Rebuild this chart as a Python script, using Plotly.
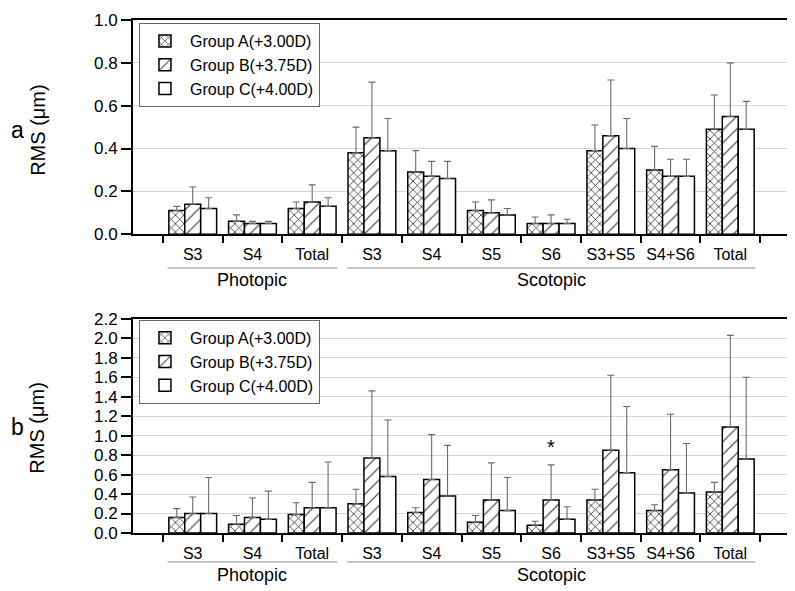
import plotly.graph_objects as go

# ---------------- data ----------------
categories = ["S3", "S4", "Total", "S3", "S4", "S5", "S6", "S3+S5", "S4+S6", "Total"]
group_labels = ["Photopic", "Scotopic"]
group_first = [1, 4]
group_last = [3, 10]
series_names = ["Group A(+3.00D)", "Group B(+3.75D)", "Group C(+4.00D)"]

# panel a (mean, SD)
a_mean_A = [0.11, 0.06, 0.12, 0.38, 0.29, 0.11, 0.05, 0.39, 0.30, 0.49]
a_sd_A = [0.02, 0.03, 0.03, 0.12, 0.10, 0.04, 0.03, 0.12, 0.11, 0.16]
a_mean_B = [0.14, 0.05, 0.15, 0.45, 0.27, 0.10, 0.05, 0.46, 0.27, 0.55]
a_sd_B = [0.08, 0.01, 0.08, 0.26, 0.07, 0.06, 0.04, 0.26, 0.08, 0.25]
a_mean_C = [0.12, 0.05, 0.13, 0.39, 0.26, 0.09, 0.05, 0.40, 0.27, 0.49]
a_sd_C = [0.05, 0.01, 0.04, 0.15, 0.08, 0.03, 0.02, 0.14, 0.08, 0.13]

# panel b (mean, SD)
b_mean_A = [0.16, 0.09, 0.19, 0.30, 0.21, 0.11, 0.08, 0.34, 0.23, 0.42]
b_sd_A = [0.09, 0.09, 0.12, 0.15, 0.05, 0.07, 0.04, 0.11, 0.06, 0.10]
b_mean_B = [0.20, 0.16, 0.26, 0.77, 0.55, 0.34, 0.34, 0.85, 0.65, 1.09]
b_sd_B = [0.17, 0.20, 0.26, 0.69, 0.46, 0.38, 0.36, 0.77, 0.57, 0.94]
b_mean_C = [0.20, 0.14, 0.26, 0.58, 0.38, 0.23, 0.14, 0.62, 0.41, 0.76]
b_sd_C = [0.37, 0.29, 0.47, 0.58, 0.52, 0.34, 0.13, 0.68, 0.51, 0.84]

a_yticks = [0.0, 0.2, 0.4, 0.6, 0.8, 1.0]
b_yticks = [0.0, 0.2, 0.4, 0.6, 0.8, 1.0, 1.2, 1.4, 1.6, 1.8, 2.0, 2.2]
star_category = 7
star_value = 0.88

x_pos = list(range(1, len(categories) + 1))

FONT = "Arial, Liberation Sans, sans-serif"
patterns = [
    dict(shape="x", size=6, solidity=0.25, fgcolor="#333333", bgcolor="white", fillmode="replace"),
    dict(shape="/", size=9, solidity=0.13, fgcolor="#3a3a3a", bgcolor="white", fillmode="replace"),
    dict(shape="", bgcolor="white", fgcolor="white", fillmode="replace"),
]

fig = go.Figure()

panels = [
    ("x", "y", "legend", [a_mean_A, a_mean_B, a_mean_C], [a_sd_A, a_sd_B, a_sd_C]),
    ("x2", "y2", "legend2", [b_mean_A, b_mean_B, b_mean_C], [b_sd_A, b_sd_B, b_sd_C]),
]
for xa, ya, lg, means, sds in panels:
    for name, m, s, pat in zip(series_names, means, sds, patterns):
        fig.add_trace(go.Bar(
            x=x_pos, y=m, name=name, xaxis=xa, yaxis=ya, legend=lg,
            marker=dict(color="white", pattern=pat,
                        line=dict(color="black", width=1.5)),
            error_y=dict(type="data", symmetric=False, array=s,
                         arrayminus=[0] * len(s), color="#6a6a6a",
                         thickness=1.1, width=3.5),
        ))

xcommon = dict(
    range=[0, 11], tickmode="array", tickvals=x_pos, ticktext=categories,
    ticks="outside", ticklen=5, tickcolor="rgba(0,0,0,0)",
    tickfont=dict(family=FONT, size=16, color="black"),
    minor=dict(tickmode="linear", tick0=0.5, dtick=1, ticks="outside",
               ticklen=7, tickwidth=2, tickcolor="black", showgrid=False),
    showline=True, linecolor="black", linewidth=2, mirror=True,
    showgrid=False, zeroline=False,
)
ycommon = dict(
    tickformat=".1f", ticks="outside", ticklen=10, tickwidth=2, tickcolor="black",
    tickfont=dict(family=FONT, size=17, color="black"),
    showline=True, linecolor="black", linewidth=2, mirror=True,
    showgrid=True, gridcolor="#d6d6d6", gridwidth=1, zeroline=False,
)

legend_common = dict(
    xanchor="left", yanchor="top", bgcolor="white", bordercolor="#666666",
    borderwidth=1, font=dict(family=FONT, size=16, color="black"),
    traceorder="normal", itemwidth=40, tracegroupgap=0,
)

# page body adds an 8px offset, so the figure is 8px smaller and margins shifted
fig.update_layout(
    width=787, height=583,
    margin=dict(l=125, r=3, t=10, b=58),
    paper_bgcolor="white", plot_bgcolor="white",
    barmode="group", bargap=0.2, bargroupgap=0.0,
    showlegend=True,
    xaxis=dict(domain=[0, 1], anchor="y", **xcommon),
    yaxis=dict(domain=[0.5825, 1.0], anchor="x", range=[0, 1.0],
               tickvals=a_yticks, **ycommon),
    xaxis2=dict(domain=[0, 1], anchor="y2", **xcommon),
    yaxis2=dict(domain=[0.0, 0.4175], anchor="x2", range=[0, 2.2],
                tickvals=b_yticks, **ycommon),
    legend=dict(x=0.0091, y=0.994, **legend_common),
    legend2=dict(x=0.0091, y=0.4155, **legend_common),
)

annotations = []
shapes = []
# group labels with underline
for xa, ya, line_y, text_y in [("x", "y", -0.158, -0.214), ("x2", "y2", -0.135, -0.195)]:
    for lbl, f, l in zip(group_labels, group_first, group_last):
        shapes.append(dict(type="line", xref=xa, yref=f"{ya} domain",
                           x0=f - 0.42, x1=l + 0.42, y0=line_y, y1=line_y,
                           line=dict(color="#8c8c8c", width=1)))
        annotations.append(dict(text=lbl, xref=xa, yref=f"{ya} domain",
                                x=(f + l) / 2, y=text_y, showarrow=False,
                                xanchor="center", yanchor="middle",
                                font=dict(family=FONT, size=18, color="black")))

# panel letters and y titles
for letter, ycen in [("a", 0.7864), ("b", 0.2058)]:
    annotations.append(dict(text=letter, xref="paper", yref="paper",
                            x=-0.1882, y=ycen, showarrow=False,
                            xanchor="left", yanchor="middle",
                            font=dict(family=FONT, size=23, color="black")))
    annotations.append(dict(text="RMS (\u03bcm)", xref="paper", yref="paper",
                            x=-0.1457, y=ycen, showarrow=False, textangle=-90,
                            xanchor="center", yanchor="middle",
                            font=dict(family=FONT, size=20, color="black")))

# significance asterisk
annotations.append(dict(text="*", xref="x2", yref="y2", x=star_category,
                        y=star_value, showarrow=False, xanchor="center",
                        yanchor="middle",
                        font=dict(family=FONT, size=20, color="black")))

fig.update_layout(annotations=annotations, shapes=shapes)

fig.write_html("out.html")
